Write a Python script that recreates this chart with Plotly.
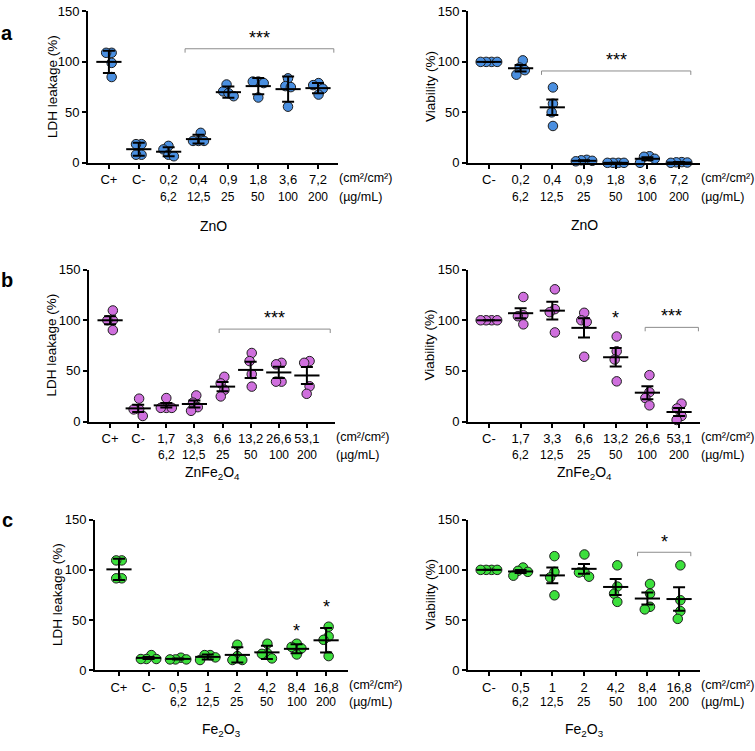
import math
import plotly.graph_objects as go

W, H = 755, 751

# ---------------- data ----------------
LDH_TITLE = "LDH leakage (%)"
VIA_TITLE = "Viability (%)"

ZNO_LDH_CAT = ["C+", "C-", "0,2", "0,4", "0,9", "1,8", "3,6", "7,2"]
ZNO_LDH_CAT2 = ["", "", "6,2", "12,5", "25", "50", "100", "200"]
ZNO_LDH_VALS = [[109, 109, 99, 85], [18.5, 18.5, 8, 8], [16.8, 13.3, 8, 6.5],
                [29.7, 21.7, 21.7, 21.7], [77.6, 70.8, 69, 66], [80.5, 80.5, 79, 64.7],
                [83.7, 76, 75, 55.6], [79, 77, 73.4, 67.6]]
ZNO_LDH_MEAN = [100, 13.5, 11, 23.5, 70, 76, 73, 74]
ZNO_LDH_ERR = [11, 6.5, 4.5, 4.3, 5.5, 8, 12.5, 5]

ZNO_VIA_CAT = ["C-", "0,2", "0,4", "0,9", "1,8", "3,6", "7,2"]
ZNO_VIA_CAT2 = ["", "6,2", "12,5", "25", "50", "100", "200"]
ZNO_VIA_VALS = [[100, 100, 100, 100], [101.5, 94.4, 91.8, 87.3], [74.7, 58.5, 50, 36.5],
                [3, 2.5, 2, 1.5], [0, 0, 0, 0], [6.5, 6, 4, 0], [0.7, 0.5, 0.3, 0]]
ZNO_VIA_MEAN = [100, 93.7, 55, 2, 0, 4, 0.4]
ZNO_VIA_ERR = [0, 3.3, 7.7, 0.5, 0, 1.5, 0.3]

ZNFE_LDH_CAT = ["C+", "C-", "1,7", "3,3", "6,6", "13,2", "26,6", "53,1"]
ZNFE_LDH_CAT2 = ["", "", "6,2", "12,5", "25", "50", "100", "200"]
ZNFE_LDH_VALS = [[109.7, 100, 100, 90.3], [22.6, 12, 12, 5.5], [23.2, 13.5, 13.5, 13.5],
                 [25.8, 18.7, 14.2, 10.6], [44.2, 37.7, 31.3, 24.8], [67.7, 59.7, 46.8, 34.5],
                 [58, 56.5, 39.4, 39.4], [59.7, 58, 34.8, 27.4]]
ZNFE_LDH_MEAN = [100, 13, 16, 17.3, 34.5, 51, 48.5, 45.5]
ZNFE_LDH_ERR = [4, 3.5, 2.2, 3.5, 4.5, 8, 5.5, 8.3]

ZNFE_VIA_CAT = ["C-", "1,7", "3,3", "6,6", "13,2", "26,6", "53,1"]
ZNFE_VIA_CAT2 = ["", "6,2", "12,5", "25", "50", "100", "200"]
ZNFE_VIA_VALS = [[100, 100, 100, 100], [123, 105, 104, 96], [130.6, 111, 108, 88],
                 [107.4, 100, 98.4, 64], [84, 69.4, 61.3, 39.7], [45.8, 29, 23.2, 16],
                 [17.7, 12.9, 5.5, 1.6]]
ZNFE_VIA_MEAN = [100, 107, 109.5, 92.5, 63.5, 28.5, 9.4]
ZNFE_VIA_ERR = [0, 5, 8.8, 9.5, 9.2, 6.4, 3.9]

FE_LDH_CAT = ["C+", "C-", "0,5", "1", "2", "4,2", "8,4", "16,8"]
FE_LDH_CAT2 = ["", "", "6,2", "12,5", "25", "50", "100", "200"]
FE_LDH_VALS = [[109.4, 109.4, 91.6, 91.6], [15.3, 11.4, 11.4, 11.4], [12.7, 11, 11, 11],
               [15.3, 15.3, 13, 10.4], [25.6, 14.3, 10.4, 10.4], [26.6, 16.9, 16.5, 12],
               [26.6, 23.4, 22, 15.9], [43.5, 33.8, 30.5, 14.3]]
FE_LDH_MEAN = [100.5, 12.5, 11.5, 13.5, 15.5, 18, 21.5, 30]
FE_LDH_ERR = [10.6, 1, 0.5, 2.5, 7.5, 6.5, 4.5, 12.2]

FE_VIA_CAT = ["C-", "0,5", "1", "2", "4,2", "8,4", "16,8"]
FE_VIA_CAT2 = ["", "6,2", "12,5", "25", "50", "100", "200"]
FE_VIA_VALS = [[100, 100, 100, 100], [102.3, 99, 98, 94.2], [113.6, 98, 92.5, 74.7],
               [115.3, 98, 97.4, 93.2], [104.5, 83.4, 76.3, 68.2], [86, 76.3, 63.3, 60.7],
               [104.5, 69.8, 59, 51.3]]
FE_VIA_MEAN = [100, 98.4, 94.5, 101, 83, 71.5, 71]
FE_VIA_ERR = [0, 1.5, 7.8, 4.9, 8, 5.9, 11.7]

Y_TICKS = [0, 50, 100, 150]
UNIT1 = "(cm²/cm²)"
UNIT2 = "(µg/mL)"

BLUE = "#4A8FE0"
PURPLE = "#CF6FDD"
GREEN = "#3CE03C"

FONT = "Liberation Sans, Arial, sans-serif"

# ---------------- panel layout ----------------
PANELS = [
    dict(cat=ZNO_LDH_CAT, cat2=ZNO_LDH_CAT2, vals=ZNO_LDH_VALS, mean=ZNO_LDH_MEAN, err=ZNO_LDH_ERR,
         color=BLUE, ytitle=LDH_TITLE, xtitle="ZnO", xdom=(88, 338), ydom=(4.5, 159),
         xr=(-0.70, 7.67), r2=34, tshift=63, ytx=52,
         brackets=[(2.55, 7.53, 113, "***", 121)], stars=[]),
    dict(cat=ZNO_VIA_CAT, cat2=ZNO_VIA_CAT2, vals=ZNO_VIA_VALS, mean=ZNO_VIA_MEAN, err=ZNO_VIA_ERR,
         color=BLUE, ytitle=VIA_TITLE, xtitle="ZnO", xdom=(468, 700), ydom=(4.5, 159),
         xr=(-0.66, 6.66), r2=34, tshift=62, ytx=430,
         brackets=[(1.66, 6.37, 91, "***", 99)], stars=[]),
    dict(cat=ZNFE_LDH_CAT, cat2=ZNFE_LDH_CAT2, vals=ZNFE_LDH_VALS, mean=ZNFE_LDH_MEAN, err=ZNFE_LDH_ERR,
         color=PURPLE, ytitle=LDH_TITLE, xtitle="ZnFe<sub>2</sub>O<sub>4</sub>", xdom=(89, 335), ydom=(268, 423),
         xr=(-0.75, 8.0), r2=33, tshift=51, ytx=52,
         brackets=[(3.88, 7.83, 91.3, "***", 99)], stars=[]),
    dict(cat=ZNFE_VIA_CAT, cat2=ZNFE_VIA_CAT2, vals=ZNFE_VIA_VALS, mean=ZNFE_VIA_MEAN, err=ZNFE_VIA_ERR,
         color=PURPLE, ytitle=VIA_TITLE, xtitle="ZnFe<sub>2</sub>O<sub>4</sub>", xdom=(468, 700), ydom=(268, 423),
         xr=(-0.66, 6.66), r2=33, tshift=51, ytx=430,
         brackets=[(4.93, 6.61, 93, "***", 101)], stars=[(4, 102, "*")]),
    dict(cat=FE_LDH_CAT, cat2=FE_LDH_CAT2, vals=FE_LDH_VALS, mean=FE_LDH_MEAN, err=FE_LDH_ERR,
         color=GREEN, ytitle=LDH_TITLE, xtitle="Fe<sub>2</sub>O<sub>3</sub>", xdom=(95, 348), ydom=(523, 677),
         xr=(-0.81, 7.74), r2=32, tshift=60, ytx=57,
         brackets=[], stars=[(6, 39.6, "*"), (7, 63, "*")]),
    dict(cat=FE_VIA_CAT, cat2=FE_VIA_CAT2, vals=FE_VIA_VALS, mean=FE_VIA_MEAN, err=FE_VIA_ERR,
         color=GREEN, ytitle=VIA_TITLE, xtitle="Fe<sub>2</sub>O<sub>3</sub>", xdom=(468, 700), ydom=(523, 677),
         xr=(-0.66, 6.66), r2=32, tshift=60, ytx=430,
         brackets=[(4.69, 6.37, 117.5, "*", 125)], stars=[]),
]

LETTERS = [("a", 27), ("b", 279), ("c", 523)]


def swarm(values, yscale, dx0=5.5, dy0=9.0):
    """GraphPad-like horizontal spreading (pixel offsets) of overlapping dots."""
    order = sorted(range(len(values)), key=lambda i: -values[i])
    placed = []
    offs = [0.0] * len(values)
    for i in order:
        y = values[i] * yscale
        cands = [0.0]
        for ox, oy in placed:
            dy = abs(y - oy)
            if dy < dy0:
                need = dx0 * math.sqrt(1 - (dy / dy0) ** 2)
                cands += [ox + need + 1e-6, ox - need - 1e-6]
        valid = [c for c in cands
                 if all(((c - ox) / dx0) ** 2 + ((y - oy) / dy0) ** 2 >= 1 - 1e-9 for ox, oy in placed)]
        best = min(valid, key=lambda c: (round(abs(c), 6), c))
        offs[i] = best
        placed.append((best, y))
    mid = (max(offs) + min(offs)) / 2
    return [o - mid for o in offs]


fig = go.Figure()
annotations = []
shapes = []

for k, p in enumerate(PANELS, start=1):
    xa = "x" if k == 1 else f"x{k}"
    ya = "y" if k == 1 else f"y{k}"
    x0, x1 = p["xdom"]
    yt, yb = p["ydom"]
    xscale = (x1 - x0) / (p["xr"][1] - p["xr"][0])
    yscale = (yb - yt) / 150.0
    n = len(p["cat"])
    cats = list(range(n))

    xs, ys = [], []
    for i, grp in enumerate(p["vals"]):
        for v, o in zip(grp, swarm(grp, yscale)):
            xs.append(i + o / xscale)
            ys.append(v)

    fig.add_trace(go.Scatter(
        x=xs, y=ys, mode="markers", xaxis=xa, yaxis=ya, cliponaxis=False, showlegend=False,
        marker=dict(size=9.5, color=p["color"], line=dict(color="#1e1e1e", width=1))))
    fig.add_trace(go.Scatter(
        x=cats, y=p["mean"], mode="markers", xaxis=xa, yaxis=ya, cliponaxis=False, showlegend=False,
        marker=dict(symbol="line-ew", size=18, color="black", line=dict(color="black", width=2)),
        error_y=dict(type="data", array=p["err"], color="black", thickness=2, width=6)))

    axname = "xaxis" if k == 1 else f"xaxis{k}"
    ayname = "yaxis" if k == 1 else f"yaxis{k}"
    fig.layout[axname] = dict(
        domain=[x0 / W, x1 / W], range=list(p["xr"]), anchor=ya,
        tickmode="array", tickvals=cats, ticktext=p["cat"],
        ticks="outside", ticklen=4, tickwidth=1.5, tickcolor="black",
        showline=True, linecolor="black", linewidth=2, showgrid=False, zeroline=False,
        tickfont=dict(size=13, color="black", family=FONT), fixedrange=True)
    fig.layout[ayname] = dict(
        domain=[1 - yb / H, 1 - yt / H], range=[0, 150], anchor=xa,
        tickmode="array", tickvals=Y_TICKS,
        ticks="outside", ticklen=4, tickwidth=1.5, tickcolor="black",
        showline=True, linecolor="black", linewidth=2, showgrid=False, zeroline=False,
        tickfont=dict(size=13, color="black", family=FONT), fixedrange=True)

    dom_y = f"{ya} domain"
    dom_x = f"{xa} domain"
    for i, t in enumerate(p["cat2"]):
        if t:
            annotations.append(dict(x=i, xref=xa, y=0, yref=dom_y, yshift=-p["r2"], yanchor="middle",
                                    text=t, showarrow=False, font=dict(size=12, color="black", family=FONT)))
    annotations.append(dict(x=1, xref=dom_x, xanchor="left", xshift=-1, y=0, yref=dom_y, yshift=-15,
                            yanchor="middle", text=UNIT1, showarrow=False,
                            font=dict(size=12.5, color="black", family=FONT)))
    annotations.append(dict(x=1, xref=dom_x, xanchor="left", xshift=-1, y=0, yref=dom_y, yshift=-p["r2"],
                            yanchor="middle", text=UNIT2, showarrow=False,
                            font=dict(size=12.5, color="black", family=FONT)))
    annotations.append(dict(x=0.5, xref=dom_x, y=0, yref=dom_y, yshift=-p["tshift"], yanchor="middle",
                            text=p["xtitle"], showarrow=False, font=dict(size=14, color="black", family=FONT)))
    annotations.append(dict(x=p["ytx"] / W, xref="paper", xanchor="center", y=0.5, yref=dom_y,
                            yanchor="middle", textangle=-90,
                            text=p["ytitle"], showarrow=False, font=dict(size=13.5, color="black", family=FONT)))

    for (bx0, bx1, by, lab, sy) in p["brackets"]:
        drop = 4.0 / yscale
        shapes.append(dict(type="path", xref=xa, yref=ya,
                           path=f"M {bx0},{by - drop} L {bx0},{by} L {bx1},{by} L {bx1},{by - drop}",
                           line=dict(color="#8c8c8c", width=1)))
        annotations.append(dict(x=(bx0 + bx1) / 2, xref=xa, y=sy, yref=ya, yanchor="middle", yshift=3,
                                text=lab, showarrow=False, font=dict(size=18, color="black", family=FONT)))
    for (sx, sy, lab) in p["stars"]:
        annotations.append(dict(x=sx, xref=xa, y=sy, yref=ya, yanchor="middle", yshift=0,
                                text=lab, showarrow=False, font=dict(size=18, color="black", family=FONT)))

for lab, py in LETTERS:
    annotations.append(dict(x=7 / W, xref="paper", y=1 - py / H, yref="paper", xanchor="center",
                            yanchor="middle", text=f"<b>{lab}</b>", showarrow=False,
                            font=dict(size=20, color="black", family=FONT)))

fig.update_layout(width=W, height=H, margin=dict(l=0, r=0, t=0, b=0),
                  paper_bgcolor="white", plot_bgcolor="white",
                  annotations=annotations, shapes=shapes,
                  font=dict(family=FONT, color="black"))

fig.write_html("out.html", config={"displayModeBar": False})

# remove the browser's default body margin so the figure sits at the page's corner
with open("out.html", encoding="utf-8") as f:
    html = f.read()
html = html.replace("<body>", '<body style="margin:0;padding:0;">', 1)
with open("out.html", "w", encoding="utf-8") as f:
    f.write(html)
